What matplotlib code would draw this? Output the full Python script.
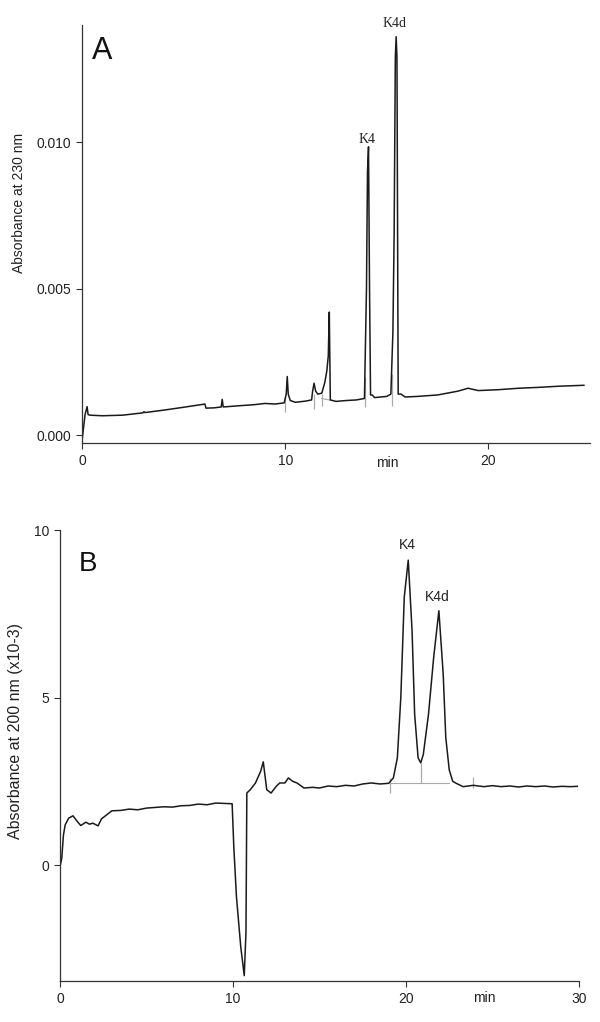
import matplotlib
matplotlib.use("Agg")
import matplotlib.pyplot as plt

plt.rcParams['font.family'] = ['Liberation Sans', 'DejaVu Sans']

# ---------------- Panel A data (time in min, absorbance at 230 nm) ----------------
a_time = [0.00, 0.05, 0.15, 0.25, 0.30, 0.40, 1.0, 2.0, 3.0, 3.05, 3.1, 4.0, 5.0,
          6.05, 6.1, 6.5, 6.85, 6.9, 6.95, 7.7, 8.5, 9.0, 9.5, 9.95, 10.05, 10.1,
          10.15, 10.25, 10.5, 11.0, 11.3, 11.35, 11.42, 11.5, 11.6, 11.8, 11.95,
          12.05, 12.12, 12.17, 12.22, 12.5, 13.0, 13.5, 13.9, 14.0, 14.05, 14.1,
          14.15, 14.2, 14.28, 14.4, 15.0, 15.2, 15.3, 15.36, 15.42, 15.46, 15.5,
          15.56, 15.7, 15.9, 16.5, 17.5, 18.5, 19.0, 19.5, 20.5, 21.5, 22.5, 23.5, 24.7]
a_abs = [-0.0002, 0.0001, 0.0007, 0.00097, 0.0007, 0.00068, 0.00066, 0.00068, 0.00076,
         0.0008, 0.00077, 0.00085, 0.00095, 0.00106, 0.00092, 0.00093, 0.00096, 0.00122,
         0.00096, 0.0010, 0.00104, 0.00108, 0.00106, 0.00110, 0.0014, 0.0020, 0.0014,
         0.00118, 0.00112, 0.00116, 0.0012, 0.0015, 0.00177, 0.0015, 0.00140, 0.00143,
         0.0018, 0.0022, 0.0027, 0.0042, 0.0012, 0.00115, 0.00118, 0.0012, 0.00125,
         0.0050, 0.0090, 0.00984, 0.0050, 0.00137, 0.00137, 0.00128, 0.00132, 0.0014,
         0.0035, 0.0068, 0.0129, 0.0136, 0.0129, 0.0014, 0.0014, 0.0013, 0.00132,
         0.00137, 0.00150, 0.00160, 0.00152, 0.00155, 0.00160, 0.00163, 0.00167, 0.0017]
a_mark_time = [10.0, 11.4, 11.8, 13.95, 15.27]
a_mark_low = [0.0008, 0.0009, 0.0010, 0.00095, 0.0010]
a_mark_high = [0.0013, 0.0014, 0.0014, 0.0020, 0.0021]
a_base_time = [11.8, 12.3]
a_base_abs = [0.00125, 0.00118]
a_peak_labels = ["K4", "K4d"]
a_peak_time = [14.05, 15.37]
a_peak_abs = [0.0101, 0.01406]
a_xticks = [0, 10, 20]
a_yticks = [0.000, 0.005, 0.010]

# ---------------- Panel B data (time in min, absorbance at 200 nm x10-3) ----------------
b_time = [0.0, 0.1, 0.2, 0.3, 0.5, 0.75, 1.0, 1.2, 1.5, 1.7, 1.9, 2.2, 2.4, 2.7, 3.0,
          3.5, 4.0, 4.5, 5.0, 5.5, 6.0, 6.5, 7.0, 7.5, 8.0, 8.5, 9.0, 9.5, 9.95, 10.05,
          10.2, 10.45, 10.65, 10.75, 10.8, 11.0, 11.3, 11.6, 11.75, 11.95, 12.2, 12.5,
          12.7, 13.0, 13.2, 13.45, 13.7, 14.1, 14.6, 15.0, 15.5, 16.0, 16.5, 17.0,
          17.5, 18.0, 18.5, 19.0, 19.27, 19.5, 19.7, 19.9, 20.13, 20.35, 20.5, 20.7,
          20.85, 21.0, 21.3, 21.6, 21.9, 22.15, 22.3, 22.5, 22.7, 22.9, 23.3, 23.9,
          24.5, 25.0, 25.5, 26.0, 26.5, 27.0, 27.5, 28.0, 28.5, 29.0, 29.5, 29.9]
b_abs = [-0.05, 0.2, 0.9, 1.2, 1.4, 1.47, 1.3, 1.18, 1.28, 1.22, 1.25, 1.17, 1.38, 1.5,
         1.62, 1.63, 1.67, 1.65, 1.70, 1.72, 1.74, 1.73, 1.77, 1.78, 1.82, 1.80, 1.85,
         1.84, 1.83, 0.5, -0.95, -2.45, -3.3, -2.0, 2.15, 2.25, 2.45, 2.8, 3.08, 2.25,
         2.15, 2.35, 2.45, 2.45, 2.6, 2.5, 2.45, 2.3, 2.32, 2.3, 2.36, 2.34, 2.38,
         2.36, 2.42, 2.45, 2.42, 2.44, 2.6, 3.2, 5.0, 8.0, 9.1, 7.0, 4.5, 3.2, 3.05,
         3.3, 4.5, 6.2, 7.59, 5.7, 3.8, 2.84, 2.5, 2.44, 2.34, 2.38, 2.34, 2.37, 2.34,
         2.36, 2.33, 2.36, 2.34, 2.36, 2.33, 2.35, 2.34, 2.35]
b_base_time = [19.1, 22.5]
b_base_abs = [2.44, 2.44]
b_mark_time = [19.1, 20.85, 23.9]
b_mark_low = [2.15, 2.44, 2.29]
b_mark_high = [2.6, 3.04, 2.64]
b_peak_labels = ["K4", "K4d"]
b_peak_time = [20.1, 21.8]
b_peak_abs = [9.55, 8.0]
b_xticks = [0, 10, 20, 30]
b_yticks = [0, 5, 10]

W, H = 600, 1022
fig = plt.figure(figsize=(W / 100, H / 100), dpi=100)

line_c = '#1a1a1a'
gray_c = '#aaaaaa'


def style(ax):
    for s in ['top', 'right']:
        ax.spines[s].set_visible(False)
    for s in ['left', 'bottom']:
        ax.spines[s].set_linewidth(0.9)
        ax.spines[s].set_color('#333333')
    ax.tick_params(axis='both', direction='out', length=4.5, width=0.8,
                   colors='#333333', labelsize=10, labelcolor='#222222')


# Panel A
axA = fig.add_axes([82 / W, 1 - 443 / H, (590 - 82) / W, (443 - 25) / H])
style(axA)
axA.plot(a_base_time, a_base_abs, color=gray_c, lw=0.8)
axA.vlines(a_mark_time, a_mark_low, a_mark_high, color=gray_c, lw=0.9)
axA.plot(a_time, a_abs, color=line_c, lw=1.1)
axA.set_xlim(0, 25)
axA.set_ylim(-0.00027, 0.014)
axA.set_xticks(a_xticks)
axA.set_yticks(a_yticks)
axA.set_yticklabels([f"{v:.3f}" for v in a_yticks])
axA.set_ylabel("Absorbance at 230 nm", fontsize=10, color='#222222')
axA.yaxis.set_label_coords(-0.11, 0.574)
axA.text(15.0, -0.00095, "min", ha='center', va='center', fontsize=10, color='#222222')
axA.text(0.5, 0.0131, "A", fontsize=22, ha='left', va='center', color='#111111')
for lab, t, v in zip(a_peak_labels, a_peak_time, a_peak_abs):
    axA.text(t, v, lab, ha='center', va='center', fontsize=10,
             family=['Liberation Serif', 'DejaVu Serif'], color='#222222', clip_on=False)

# Panel B
axB = fig.add_axes([60 / W, 1 - 981 / H, (579 - 60) / W, (981 - 530) / H])
style(axB)
axB.plot(b_base_time, b_base_abs, color=gray_c, lw=0.8)
axB.vlines(b_mark_time, b_mark_low, b_mark_high, color=gray_c, lw=0.9)
axB.plot(b_time, b_abs, color=line_c, lw=1.1)
axB.set_xlim(0, 30)
axB.set_ylim(-3.46, 10)
axB.set_xticks(b_xticks)
axB.set_yticks(b_yticks)
axB.set_ylabel("Absorbance at 200 nm (x10-3)", fontsize=11.5, color='#222222')
axB.yaxis.set_label_coords(-0.071, 0.554)
axB.text(24.5, -3.46 - 0.5, "min", ha='center', va='center', fontsize=10, color='#222222')
axB.text(1.1, 8.99, "B", fontsize=20, ha='left', va='center', color='#111111')
for lab, t, v in zip(b_peak_labels, b_peak_time, b_peak_abs):
    axB.text(t, v, lab, ha='center', va='center', fontsize=10, color='#222222', clip_on=False)

fig.savefig("out.png", dpi=100)
